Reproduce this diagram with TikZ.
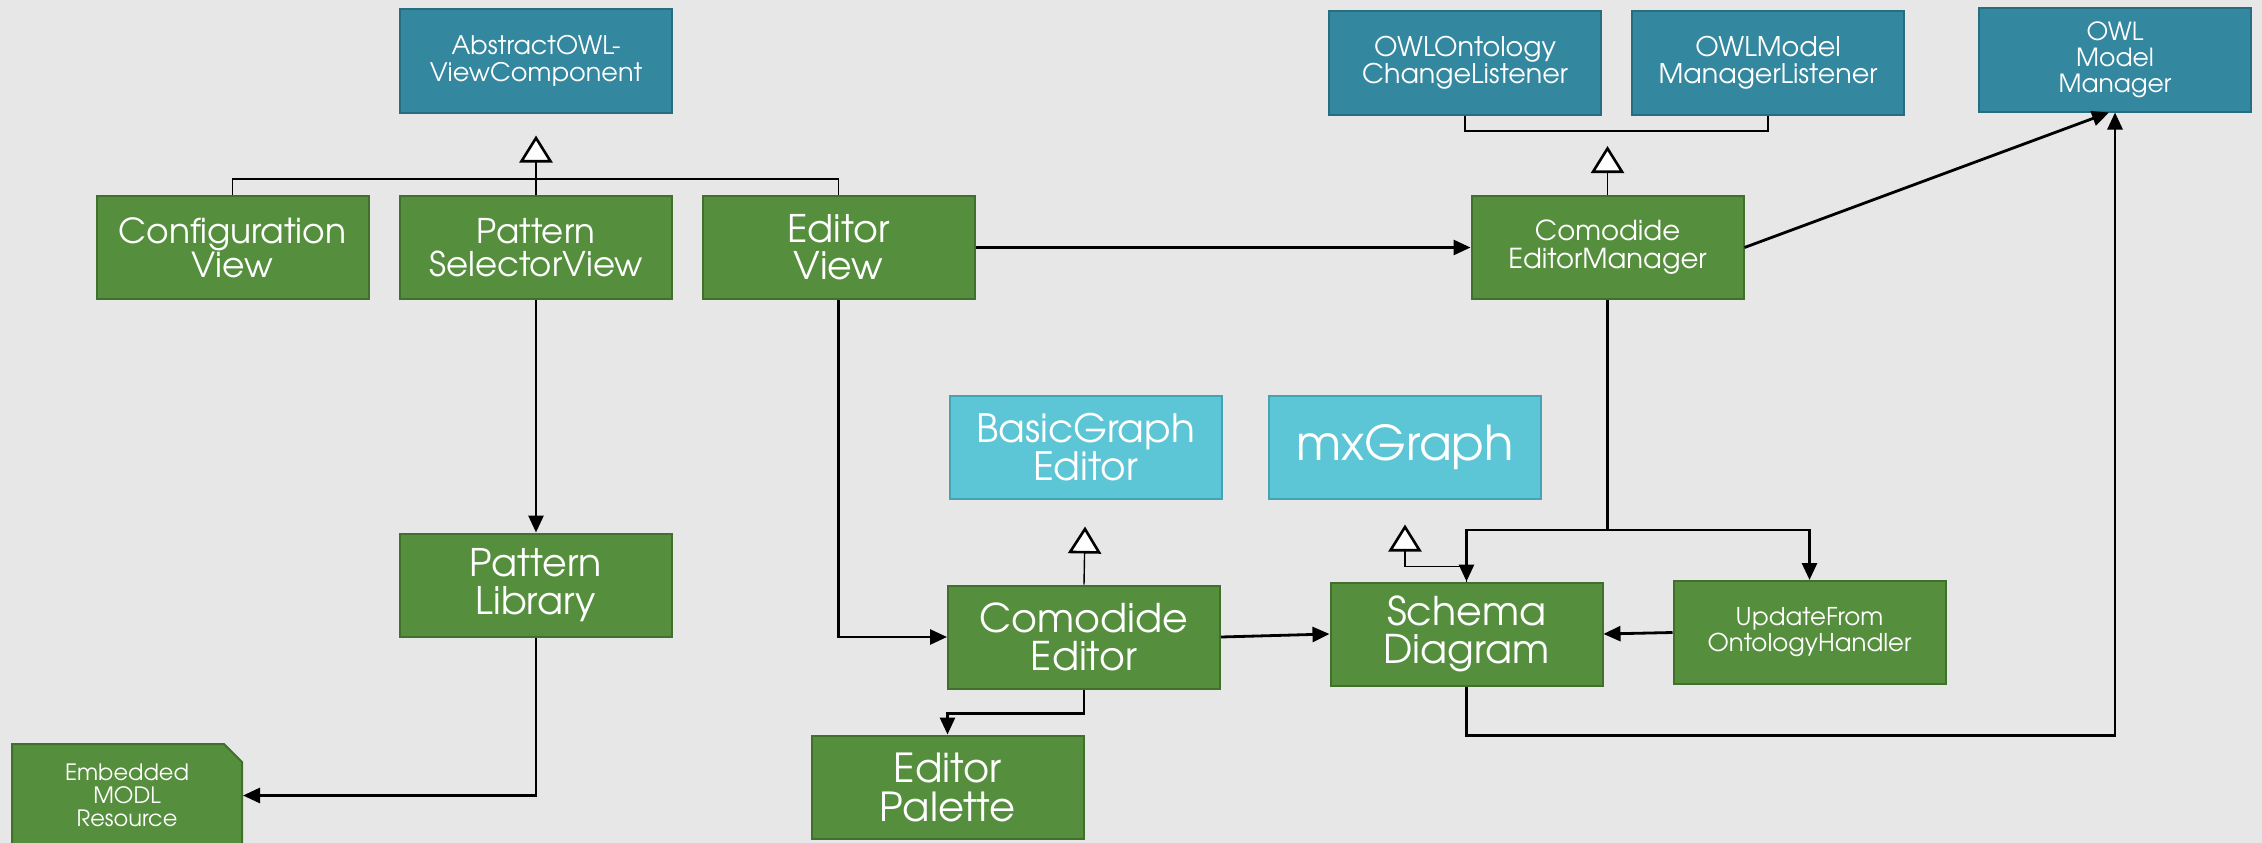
\documentclass[tikz,border=0pt]{standalone}
\usepackage{fontspec}
\setmainfont{TeX Gyre Adventor}
\usepackage{xcolor}
\usetikzlibrary{arrows.meta,shapes.misc}

\definecolor{bgGray}{HTML}{E7E7E7}
\definecolor{clsGreen}{HTML}{558E3C}
\definecolor{clsGreenDark}{HTML}{41702D}
\definecolor{ifcTeal}{HTML}{33879E}
\definecolor{ifcTealDark}{HTML}{276C80}
\definecolor{libCyan}{HTML}{5CC5D6}
\definecolor{libCyanDark}{HTML}{45A4B4}

\begin{document}
\begin{tikzpicture}[
  x=1pt, y=-1pt,
  box/.style={draw=clsGreenDark, fill=clsGreen, line width=2pt, text=white, align=center, minimum width=272pt, minimum height=103pt, inner sep=2pt},
  ifc/.style={box, draw=ifcTealDark, fill=ifcTeal},
  lib/.style={box, draw=libCyanDark, fill=libCyan},
  fsz/.style 2 args={font=\fontsize{#1}{#2}\selectfont},
  arr/.style={line width=2.8pt, -{Triangle[length=17pt, width=15pt]}},
  inh/.style={line width=1.4pt, -{Triangle[open, length=27pt, width=33pt, fill=white, line width=2.6pt]}},
  link/.style={line width=1.4pt}
]
\useasboundingbox[fill=bgGray] (0,0) rectangle (2262,843);

% top row
\node[ifc, fsz={25.5}{27}] (aovc) at (536,61) {AbstractOWL-\\ViewComponent};
\node[box, fsz={34.5}{34}] (cfg) at (232.5,247.5) {Configuration\\View};
\node[box, fsz={34}{33}] (psv) at (536,247.5) {Pattern\\SelectorView};
\node[box, fsz={38}{37}] (ev) at (838.5,247.5) {Editor\\View};
\node[ifc, fsz={27}{27}] (oocl) at (1465,63) {OWLOntology\\ChangeListener};
\node[ifc, fsz={27}{27}] (omml) at (1768,63) {OWLModel\\ManagerListener};
\node[ifc, fsz={25}{26}] (omm) at (2115,60) {OWL\\Model\\Manager};
\node[box, fsz={27.5}{28}] (cem) at (1607.5,247.5) {Comodide\\EditorManager};

% middle and bottom
\node[lib, fsz={39}{38}] (bge) at (1085.5,447) {BasicGraph\\Editor};
\node[lib, fsz={48}{50}] (mx) at (1405,447) {mxGraph};
\node[box, fsz={38}{38}] (plib) at (536,585) {Pattern\\Library};
\node[box, fsz={39.5}{38}] (ce) at (1084,637) {Comodide\\Editor};
\node[box, fsz={39.5}{38}] (sd) at (1466.5,634) {Schema\\Diagram};
\node[box, fsz={24.5}{26}] (ufoh) at (1809.5,632.5) {UpdateFrom\\OntologyHandler};
\node[box, fsz={40}{39}] (ep) at (947.5,787) {Editor\\Palette};
\node[box, chamfered rectangle, chamfered rectangle corners=north east, chamfered rectangle xsep=9pt, chamfered rectangle ysep=9pt, minimum width=230pt, minimum height=103pt, fsz={22.5}{23}] (modl) at (127,795.5) {Embedded\\MODL\\Resource};

% generalizations
\coordinate (jView) at (536,179);
\coordinate (jIfc) at (1607.5,131);
\draw[link] (cfg.north) |- (jView) -| (ev.north);
\draw[inh, shorten >=22pt] (psv.north) -- (aovc.south);
\draw[link] (oocl.south) |- (jIfc) -| (omml.south);
\draw[inh, shorten >=15pt] (cem.north) -- (jIfc);
\draw[inh, shorten >=27pt] (ce.north) -- (bge.south);
\draw[inh, shorten >=25pt] (sd.north) -- ++(0,-15) -| (mx.south);

% associations
\draw[arr] (psv) -- (plib);
\draw[arr] (plib.south) |- (modl.east);
\draw[arr] (ev) -- (cem);
\draw[arr] (cem.east) -- ([xshift=-6pt]omm.south);
\draw[arr] (cem.south) -- ++(0,230) -| (sd.north);
\draw[arr] (cem.south) -- ++(0,230) -| (ufoh.north);
\draw[arr] (sd.south) -- ++(0,49) -| (omm.south);
\draw[arr] (ev.south) |- (ce.west);
\draw[arr] (ce.east) -- (sd.west);
\draw[arr] (ufoh.west) -- (sd.east);
\draw[arr] (ce.south) -- ++(0,24) -| (ep.north);
\end{tikzpicture}
\end{document}
